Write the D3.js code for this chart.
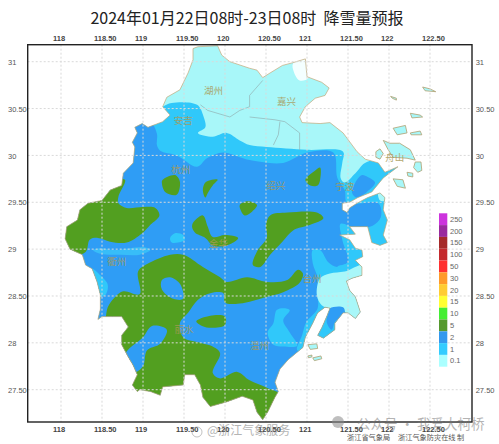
<!DOCTYPE html>
<html>
<head>
<meta charset="utf-8">
<script src="https://d3js.org/d3.v7.min.js"></script>
<style>
    html, body {margin: 0; padding: 0; background: #fff;}
    svg {display: block;}
</style>
</head>
<body>
<div id="chart"></div>
<script>
// all outlines are [lon, lat]
const lon_ticks = [118, 118.5, 119, 119.5, 120, 120.5, 121, 121.5, 122, 122.5];
const lat_ticks = [31, 30.5, 30, 29.5, 29, 28.5, 28, 27.5];
const lon_labels = ["118", "118.50", "119", "119.50", "120", "120.50", "121", "121.50", "122", "122.50"];
const lat_labels = ["31", "30.50", "30", "29.50", "29", "28.50", "28", "27.50"];
const legend_levels = ["250", "200", "150", "100", "50", "30", "20", "15", "10", "5", "2", "1", "0.1"];

const mainland = [[119.61,31.14],[119.67,31.16],[119.91,31.17],[119.96,31.07],[120.06,31.00],[120.30,30.93],[120.39,30.91],[120.46,30.83],[120.55,30.88],[120.70,30.96],[120.83,30.99],[120.98,31.03],[121.00,30.84],[121.18,30.78],[121.27,30.72],[121.22,30.64],[121.10,30.61],[120.98,30.52],[120.91,30.41],[120.94,30.35],[121.16,30.34],[121.28,30.35],[121.44,30.24],[121.61,30.04],[121.71,29.96],[121.87,29.92],[121.95,29.82],[122.11,29.88],[121.93,29.76],[121.79,29.61],[121.62,29.55],[121.52,29.50],[121.43,29.49],[121.43,29.42],[121.49,29.39],[121.52,29.44],[121.61,29.49],[121.74,29.55],[121.83,29.58],[121.89,29.60],[121.95,29.55],[121.93,29.42],[121.98,29.31],[121.93,29.15],[121.98,29.07],[121.89,29.04],[121.79,29.07],[121.74,29.24],[121.65,29.24],[121.52,29.24],[121.59,29.16],[121.40,29.15],[121.52,29.10],[121.59,29.01],[121.67,28.99],[121.68,28.92],[121.59,28.88],[121.67,28.81],[121.67,28.72],[121.55,28.69],[121.48,28.66],[121.52,28.56],[121.59,28.49],[121.65,28.33],[121.59,28.26],[121.50,28.32],[121.44,28.32],[121.34,28.21],[121.34,28.14],[121.20,28.05],[121.13,28.08],[121.18,28.16],[121.24,28.28],[121.28,28.37],[121.22,28.38],[121.13,28.32],[121.07,28.21],[120.98,28.06],[120.95,27.95],[120.88,27.90],[120.77,27.82],[120.67,27.72],[120.61,27.58],[120.65,27.48],[120.61,27.42],[120.52,27.26],[120.46,27.18],[120.39,27.26],[120.34,27.39],[120.21,27.43],[120.02,27.37],[119.82,27.32],[119.73,27.42],[119.70,27.55],[119.63,27.66],[119.51,27.66],[119.49,27.55],[119.24,27.53],[119.21,27.44],[119.09,27.48],[118.96,27.50],[118.93,27.48],[118.87,27.55],[118.93,27.66],[118.88,27.76],[118.82,27.85],[118.74,27.98],[118.74,28.08],[118.82,28.17],[118.74,28.28],[118.63,28.28],[118.50,28.28],[118.45,28.25],[118.48,28.36],[118.48,28.51],[118.44,28.65],[118.38,28.79],[118.30,28.83],[118.26,28.94],[118.11,29.00],[118.05,29.11],[118.07,29.24],[118.20,29.31],[118.23,29.42],[118.33,29.49],[118.50,29.52],[118.60,29.63],[118.74,29.68],[118.76,29.81],[118.88,29.92],[118.90,30.09],[118.87,30.14],[118.93,30.24],[118.90,30.30],[118.99,30.34],[119.06,30.30],[119.24,30.36],[119.33,30.43],[119.24,30.52],[119.29,30.62],[119.45,30.70],[119.55,30.88],[119.61,31.02]];

const islands = [
    [[121.93,30.16],[122.01,30.13],[122.13,30.13],[122.26,30.06],[122.32,29.95],[122.22,29.97],[122.05,29.98],[121.99,30.06]],
    [[121.84,30.04],[121.89,30.07],[121.93,30.02],[121.89,29.96],[121.84,29.98]],
    [[122.32,29.93],[122.39,29.93],[122.40,29.84],[122.35,29.82],[122.30,29.87]],
    [[122.05,29.75],[122.17,29.74],[122.20,29.65],[122.10,29.67]],
    [[122.22,29.82],[122.29,29.81],[122.29,29.77],[122.23,29.78]],
    [[122.05,30.29],[122.20,30.32],[122.22,30.24],[122.10,30.22]],
    [[122.26,30.24],[122.38,30.26],[122.40,30.22],[122.27,30.22]],
    [[122.26,30.45],[122.38,30.43],[122.41,30.41],[122.28,30.40]],
    [[122.02,30.63],[122.09,30.61],[122.09,30.59],[122.04,30.61]],
    [[122.41,30.73],[122.50,30.71],[122.57,30.68],[122.44,30.69]],
    [[121.01,27.98],[121.12,27.99],[121.13,27.94],[121.04,27.93]],
    [[121.07,27.84],[121.17,27.86],[121.18,27.83],[121.09,27.81]],
    [[121.01,27.86],[121.06,27.87],[121.06,27.85],[121.02,27.84]]
];

// snowfall areas, painted in this order and cut to the mainland
const white_north = [[120.83,30.98],[121.00,31.04],[121.02,30.83],[120.91,30.80],[120.84,30.89]];
const cyan_big = [[119.09,30.43],[119.24,30.52],[119.35,30.56],[119.66,30.54],[119.74,30.41],[119.76,30.30],[119.67,30.24],[119.85,30.20],[120.02,30.24],[120.18,30.16],[120.30,30.11],[120.51,30.09],[121.00,30.06],[121.44,30.04],[121.43,29.92],[121.41,29.76],[121.46,29.71],[121.59,29.81],[121.73,29.93],[122.13,29.90],[122.38,28.46],[121.52,27.18],[118.48,27.18],[117.99,28.99],[118.60,30.27]];
const blue_big = [[118.78,30.43],[119.09,30.36],[119.17,30.23],[119.17,30.11],[119.21,30.05],[119.41,30.00],[119.66,29.88],[119.78,29.97],[119.98,30.03],[120.18,29.98],[120.30,29.95],[120.71,29.92],[121.00,30.03],[121.32,30.03],[121.37,29.76],[121.46,29.63],[121.49,29.49],[121.87,29.49],[121.90,29.34],[121.80,29.25],[121.59,29.23],[121.41,29.27],[121.43,29.10],[121.50,28.86],[121.37,28.81],[122.13,28.56],[122.13,27.07],[118.48,27.07],[117.87,28.46],[117.87,29.52]];
const blue_ningbo = [[121.74,29.77],[121.83,29.71],[121.73,29.61],[121.61,29.55],[121.55,29.60],[121.59,29.71],[121.67,29.79]];
const light_xiangshan = [[121.87,29.61],[121.96,29.59],[121.96,29.52],[121.89,29.52]];
const cyan_taizhou = [[121.07,28.99],[121.16,28.99],[121.26,28.86],[121.37,28.81],[121.52,28.86],[121.77,28.88],[121.77,28.35],[121.40,27.98],[121.04,27.92],[120.88,27.92],[120.94,28.08],[120.99,28.22],[121.13,28.37],[121.12,28.56],[121.13,28.69],[121.07,28.85]];
const cyan_wenzhou = [[120.71,28.37],[120.79,28.35],[120.71,28.24],[120.79,28.11],[120.88,27.97],[120.71,27.96],[120.59,27.98],[120.52,28.11],[120.59,28.21],[120.63,28.35]];
const cyan_jinhua = [[119.33,29.12],[119.39,29.17],[119.49,29.15],[119.51,29.10],[119.43,29.07],[119.35,29.07]];
const cyan_quzhou = [[118.39,28.99],[118.48,29.01],[118.66,28.99],[118.84,29.01],[119.02,29.02],[119.09,28.99],[118.96,28.94],[118.72,28.94],[118.48,28.95]];
const cyan_west = [[118.38,28.79],[118.48,28.72],[118.57,28.62],[118.54,28.51],[118.45,28.49],[118.41,28.62]];
const light_taizhou = [[121.16,28.69],[121.28,28.74],[121.46,28.76],[121.71,28.83],[121.77,28.46],[121.71,28.19],[121.50,28.30],[121.40,28.38],[121.28,28.37],[121.18,28.40],[121.12,28.51]];
const blue_yueqing = [[121.28,28.37],[121.44,28.38],[121.46,28.32],[121.34,28.22],[121.30,28.14],[121.24,28.22],[121.26,28.32]];
const green_west = [[118.78,29.74],[118.70,29.56],[118.70,29.49],[118.80,29.44],[119.00,29.45],[119.15,29.44],[119.20,29.36],[119.09,29.26],[118.99,29.17],[118.80,29.07],[118.60,29.08],[118.45,29.12],[118.35,29.10],[118.30,28.97],[118.11,28.94],[117.87,29.10],[117.93,29.52],[118.48,29.68]];
const green_south = [[118.54,28.26],[118.57,28.38],[118.66,28.49],[118.76,28.55],[118.96,28.52],[118.94,28.76],[119.05,28.84],[119.33,28.94],[119.49,28.94],[119.73,28.81],[119.94,28.70],[120.02,28.65],[120.27,28.70],[120.51,28.65],[120.76,28.67],[120.89,28.78],[120.95,28.74],[120.91,28.64],[120.71,28.54],[120.51,28.49],[120.18,28.42],[120.00,28.43],[119.98,28.53],[119.82,28.53],[119.67,28.46],[119.55,28.32],[119.45,28.21],[119.49,28.06],[119.70,28.00],[119.85,27.96],[119.94,27.89],[119.85,27.68],[119.94,27.62],[120.15,27.69],[120.30,27.60],[120.51,27.52],[120.70,27.43],[120.61,27.12],[119.70,27.12],[118.72,27.39],[118.41,28.03]];
const green_oval = [[119.65,28.23],[119.82,28.29],[120.00,28.28],[120.00,28.19],[119.84,28.16],[119.72,28.18]];
const green_ridge = [[120.55,29.36],[120.76,29.39],[121.12,29.39],[121.20,29.33],[121.04,29.26],[120.83,29.20],[120.70,29.08],[120.55,28.94],[120.43,28.81],[120.34,28.83],[120.40,28.99],[120.51,29.12],[120.50,29.26]];
const green_blob = [[120.18,29.47],[120.28,29.51],[120.39,29.47],[120.33,29.40],[120.24,29.36],[120.20,29.40]];
const green_bowtie = [[119.60,29.26],[119.73,29.36],[119.79,29.24],[119.85,29.13],[120.00,29.15],[120.16,29.12],[120.10,29.07],[119.98,29.03],[119.85,29.04],[119.76,29.12],[119.63,29.18]];
const green_hangzhou = [[119.24,29.74],[119.39,29.79],[119.45,29.72],[119.41,29.58],[119.27,29.61],[119.23,29.71]];
const green_sliver = [[119.91,29.74],[119.85,29.68],[119.79,29.60],[119.76,29.55],[119.73,29.63],[119.76,29.71],[119.84,29.74]];
const green_east = [[120.98,29.74],[121.10,29.84],[121.16,29.87],[121.16,29.74],[121.13,29.68],[121.04,29.68]];
const blue_pocket_west = [[119.29,28.14],[119.11,28.18],[119.00,28.06],[118.78,27.87],[118.90,27.69],[119.00,27.75],[119.05,27.92],[119.21,27.99]];
const blue_pocket_mid = [[119.33,28.70],[119.45,28.63],[119.49,28.47],[119.37,28.47],[119.23,28.57],[119.23,28.67]];

const borders = [
    [[119.70,30.54],[119.79,30.48],[120.06,30.41],[120.18,30.48],[120.30,30.52],[120.30,30.64],[120.46,30.80]],
    [[120.30,30.41],[120.61,30.38],[120.73,30.36],[120.91,30.24],[120.91,30.06]],
    [[120.67,30.36],[120.65,30.22],[120.59,30.11]]
];

const city_names = ["湖州", "嘉兴", "安吉", "杭州", "绍兴", "宁波", "舟山", "衢州", "金华", "台州", "丽水", "温州"];
const city_lons = [119.86, 120.75, 119.49, 119.46, 120.62, 121.46, 122.07, 118.68, 119.92, 121.06, 119.50, 120.42];
const city_lats = [30.69, 30.57, 30.37, 29.85, 29.68, 29.67, 29.98, 28.87, 29.06, 28.69, 28.14, 27.97];

const level_colors = ["#cc33dd", "#992a9e", "#a52a2a", "#c42a2e", "#ff3030", "#ff9a2a", "#ffcc33", "#ffff33", "#44ee33", "#55992e", "#3399ee", "#33ccff", "#aaffff"];
const c_light = "#a8f7f9", c_cyan = "#30c8fa", c_blue = "#2f9df5", c_green = "#529f20";

const paint_order = [
    [white_north, "#f4ffff"], [cyan_big, c_cyan], [blue_big, c_blue], [blue_ningbo, c_blue],
    [light_xiangshan, c_light], [cyan_taizhou, c_cyan], [cyan_wenzhou, c_cyan],
    [cyan_jinhua, c_cyan], [cyan_quzhou, "#38bdf8"], [cyan_west, c_cyan],
    [light_taizhou, c_light], [blue_yueqing, c_blue],
    [green_west, c_green], [green_south, c_green], [green_oval, c_green], [green_ridge, c_green],
    [green_blob, c_green], [green_bowtie, c_green], [green_hangzhou, c_green], [green_sliver, c_green],
    [green_east, c_green], [blue_pocket_west, c_blue], [blue_pocket_mid, c_blue]
];

const width = 499, height = 444;
const frame = {left: 27.7, right: 472, top: 44.7, bottom: 422};

const svg = d3.select("#chart").append("svg")
    .attr("width", width)
    .attr("height", height)
    .style("font-family", "'Liberation Sans', sans-serif");

const xScale = d3.scaleLinear()
    .domain([118, 122.5])
    .range([61, 430]);

const yScale = d3.scaleLinear()
    .domain([31, 27.5])
    .range([61.7, 389.7]);

const coast = d3.line().x(d => xScale(d[0])).y(d => yScale(d[1]));
const area = d3.line().x(d => xScale(d[0])).y(d => yScale(d[1])).curve(d3.curveCatmullRomClosed.alpha(0.5));

svg.append("clipPath").attr("id", "land")
    .append("path").attr("d", coast(mainland) + "Z");

// map
const viz = svg.append("g");
viz.append("path")
    .attr("d", coast(mainland) + "Z")
    .attr("fill", c_light);

viz.append("g")
    .attr("clip-path", "url(#land)")
    .selectAll("path")
    .data(paint_order)
    .enter()
    .append("path")
        .attr("d", d => area(d[0]))
        .attr("fill", d => d[1]);

viz.append("path")
    .attr("d", coast(mainland) + "Z")
    .attr("fill", "none")
    .attr("stroke", "#c4a878")
    .attr("stroke-width", 0.7);

viz.selectAll(".island")
    .data(islands)
    .enter()
    .append("path")
        .attr("class", "island")
        .attr("d", d => coast(d) + "Z")
        .attr("fill", c_light)
        .attr("stroke", "#b0a070")
        .attr("stroke-width", 0.8);

viz.selectAll(".border")
    .data(borders)
    .enter()
    .append("path")
        .attr("class", "border")
        .attr("d", coast)
        .attr("fill", "none")
        .attr("stroke", "#8fa6a8")
        .attr("stroke-width", 0.6);

// grid over the map
const grid = svg.append("g")
    .attr("stroke", "#d9d9d9")
    .attr("stroke-width", 1)
    .attr("stroke-dasharray", "2,2");

grid.selectAll(".grid-v")
    .data(lon_ticks)
    .enter()
    .append("line")
        .attr("class", "grid-v")
        .attr("x1", d => xScale(d))
        .attr("x2", d => xScale(d))
        .attr("y1", frame.top)
        .attr("y2", frame.bottom);

grid.selectAll(".grid-h")
    .data(lat_ticks)
    .enter()
    .append("line")
        .attr("class", "grid-h")
        .attr("x1", frame.left)
        .attr("x2", frame.right)
        .attr("y1", d => yScale(d))
        .attr("y2", d => yScale(d));

// city names
svg.append("g")
    .selectAll("text")
    .data(city_names)
    .enter()
    .append("text")
        .attr("x", (d, i) => xScale(city_lons[i]))
        .attr("y", (d, i) => yScale(city_lats[i]))
        .attr("dy", "0.35em")
        .attr("text-anchor", "middle")
        .attr("font-family", "'Noto Sans CJK SC'")
        .attr("font-size", 9.5)
        .attr("fill", "#a89a58")
        .attr("opacity", 0.85)
        .text(d => d);

// frame
svg.append("rect")
    .attr("x", frame.left)
    .attr("y", frame.top)
    .attr("width", frame.right - frame.left)
    .attr("height", frame.bottom - frame.top)
    .attr("fill", "none")
    .attr("stroke", "#222")
    .attr("stroke-width", 1.4);

// axes, labels sit a bit off the grid lines like the original
function lon_axis(axis, y){
    const g = svg.append("g")
        .attr("transform", `translate(0, ${y})`)
        .call(axis.tickValues(lon_ticks).tickSize(0).tickFormat((d, i) => lon_labels[i]));
    g.select(".domain").remove();
    g.selectAll("text")
        .attr("text-anchor", "start")
        .attr("dx", -8.5)
        .attr("y", 0)
        .attr("dy", "0.35em")
        .attr("font-size", 7.5)
        .attr("font-family", "'Liberation Sans'")
        .attr("font-weight", "bold")
        .attr("fill", "#444");
}
lon_axis(d3.axisTop(xScale), 38.3);
lon_axis(d3.axisBottom(xScale), 429.3);

function lat_axis(axis, x){
    const g = svg.append("g")
        .attr("transform", `translate(${x}, 0)`)
        .call(axis.tickValues(lat_ticks).tickSize(0).tickFormat((d, i) => lat_labels[i]));
    g.select(".domain").remove();
    g.selectAll("text")
        .attr("text-anchor", "start")
        .attr("x", 0)
        .attr("dy", "0.35em")
        .attr("font-size", 7.5)
        .attr("font-family", "'Liberation Sans'")
        .attr("fill", "#555");
}
lat_axis(d3.axisLeft(yScale), 8);
lat_axis(d3.axisRight(yScale), 475.7);

// legend
const legendScale = d3.scaleBand()
    .domain(legend_levels)
    .range([213.3, 366.7]);

svg.append("g")
    .selectAll("rect")
    .data(legend_levels)
    .enter()
    .append("rect")
        .attr("x", 439)
        .attr("y", d => legendScale(d))
        .attr("width", 8.3)
        .attr("height", legendScale.bandwidth())
        .attr("fill", (d, i) => level_colors[i]);

svg.append("g")
    .selectAll("text")
    .data(legend_levels)
    .enter()
    .append("text")
        .attr("x", 450)
        .attr("y", d => legendScale(d) + legendScale.bandwidth() / 2)
        .attr("dy", "0.35em")
        .attr("font-size", 7.5)
        .attr("fill", "#666")
        .text(d => d);

// title and credits
svg.append("text")
    .attr("x", 247)
    .attr("y", 18)
    .attr("dy", "0.38em")
    .attr("text-anchor", "middle")
    .attr("font-family", "'Noto Sans CJK SC'")
    .attr("font-size", 16)
    .attr("fill", "#222")
    .attr("xml:space", "preserve")
    .text("2024年01月22日08时-23日08时  降雪量预报");

svg.append("text")
    .attr("x", 347).attr("y", 437).attr("dy", "0.35em")
    .attr("font-family", "'Noto Sans CJK SC'").attr("font-size", 7.2).attr("fill", "#555")
    .text("浙江省气象局");
svg.append("text")
    .attr("x", 398).attr("y", 437).attr("dy", "0.35em")
    .attr("font-family", "'Noto Sans CJK SC'").attr("font-size", 7.2).attr("fill", "#555")
    .text("浙江气象防灾在线 制");

// watermarks
svg.append("circle")
    .attr("cx", 338).attr("cy", 422).attr("r", 6)
    .attr("fill", "#888").attr("opacity", 0.55);
svg.append("text")
    .attr("x", 357).attr("y", 424).attr("dy", "0.35em")
    .attr("font-family", "'Noto Sans CJK SC'").attr("font-size", 13.5)
    .attr("fill", "#777").attr("opacity", 0.55)
    .text("公众号 · 我爱大柯桥");
svg.append("circle")
    .attr("cx", 197).attr("cy", 432).attr("r", 5)
    .attr("fill", "none").attr("stroke", "#999").attr("opacity", 0.6);
svg.append("text")
    .attr("x", 207).attr("y", 431).attr("dy", "0.35em")
    .attr("font-family", "'Noto Sans CJK SC'").attr("font-size", 12)
    .attr("fill", "#777").attr("opacity", 0.55)
    .text("@浙江气象服务");
</script>
</body>
</html>
